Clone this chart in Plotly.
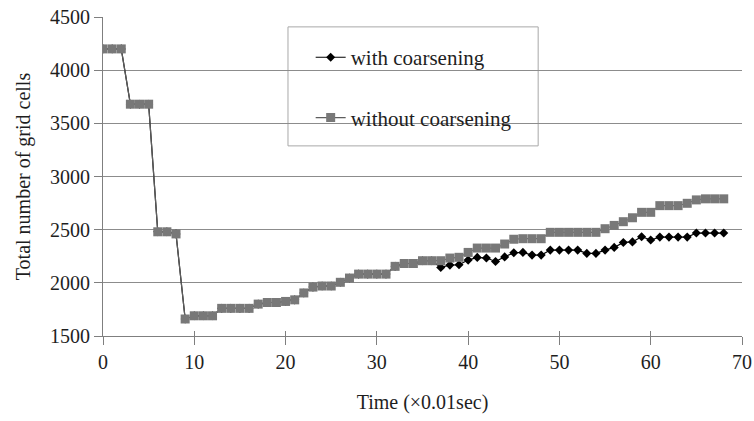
import plotly.graph_objects as go

time = list(range(69))

without_coarsening = [4200, 4200, 4200, 3680, 3680, 3680, 2480, 2480, 2460, 1660,
                      1690, 1690, 1690, 1760, 1760, 1760, 1760, 1800, 1815, 1815,
                      1825, 1840, 1905, 1960, 1970, 1970, 2005, 2045, 2082, 2082,
                      2082, 2082, 2155, 2182, 2182, 2208, 2208, 2208, 2233, 2240,
                      2286, 2327, 2327, 2327, 2365, 2410, 2415, 2415, 2415, 2475,
                      2475, 2475, 2475, 2475, 2475, 2509, 2540, 2575, 2612, 2663,
                      2663, 2726, 2726, 2726, 2748, 2780, 2790, 2790, 2790]

with_coarsening = [4200, 4200, 4200, 3680, 3680, 3680, 2480, 2480, 2460, 1660,
                   1690, 1690, 1690, 1760, 1760, 1760, 1760, 1800, 1815, 1815,
                   1825, 1840, 1905, 1960, 1970, 1970, 2005, 2045, 2082, 2082,
                   2082, 2082, 2155, 2182, 2182, 2208, 2208, 2145, 2167, 2170,
                   2214, 2239, 2233, 2201, 2244, 2283, 2286, 2261, 2261, 2308,
                   2308, 2308, 2308, 2277, 2277, 2308, 2333, 2380, 2385, 2434,
                   2403, 2430, 2430, 2430, 2430, 2468, 2468, 2468, 2468]

x_ticks = [0, 10, 20, 30, 40, 50, 60, 70]
y_ticks = [1500, 2000, 2500, 3000, 3500, 4000, 4500]

FONT = "Liberation Serif, Times New Roman, serif"
TEXT = "#1e1e1e"
AXIS_GRAY = "#7f7f7f"

fig = go.Figure()
fig.add_trace(go.Scatter(
    x=time, y=with_coarsening, mode="lines+markers", name="with coarsening",
    legendgroup="a",
    line=dict(color="black", width=1.2),
    marker=dict(symbol="diamond", size=7, color="black"),
))
fig.add_trace(go.Scatter(
    x=time, y=without_coarsening, mode="lines+markers", name="without coarsening",
    legendgroup="b",
    line=dict(color="#5e5e5e", width=1.2),
    marker=dict(symbol="square", size=9, color="#787878"),
))

# invisible trace on a twin x-axis to draw the inward half of the cross ticks
fig.add_trace(go.Scatter(x=[0], y=[1500], xaxis="x2", mode="markers",
                         marker=dict(opacity=0), showlegend=False, hoverinfo="skip"))

fig.update_layout(
    width=754, height=421,
    margin=dict(l=103, r=12, t=17, b=85),
    paper_bgcolor="white", plot_bgcolor="white",
    font=dict(family=FONT, size=20, color=TEXT),
    xaxis=dict(
        range=[0, 70], tickvals=x_ticks, ticktext=[str(v) for v in x_ticks],
        showgrid=False, zeroline=False, automargin=False,
        showline=True, linecolor=AXIS_GRAY, linewidth=1,
        ticks="outside", ticklen=8, tickcolor=AXIS_GRAY,
        title=dict(text="Time (×0.01sec)", font=dict(family=FONT, size=20, color=TEXT), standoff=22),
        tickfont=dict(family=FONT, size=20, color=TEXT),
    ),
    xaxis2=dict(
        range=[0, 70], tickvals=x_ticks, overlaying="x", side="bottom",
        showticklabels=False, showgrid=False, zeroline=False, automargin=False,
        ticks="inside", ticklen=5, tickcolor=AXIS_GRAY, showline=False,
    ),
    yaxis=dict(
        range=[1500, 4500], tickvals=y_ticks, ticktext=[str(v) for v in y_ticks],
        showgrid=True, gridcolor="#8c8c8c", gridwidth=1, zeroline=False, automargin=False,
        showline=True, linecolor=AXIS_GRAY, linewidth=1,
        ticks="outside", ticklen=8, tickcolor=AXIS_GRAY,
        title=dict(text="Total number of grid cells", font=dict(family=FONT, size=20, color=TEXT), standoff=14),
        tickfont=dict(family=FONT, size=20, color=TEXT),
    ),
    legend=dict(
        x=0.325, y=0.937, xanchor="left", yanchor="top",
        bgcolor="rgba(0,0,0,0)", borderwidth=0,
        tracegroupgap=30, traceorder="grouped",
        font=dict(family=FONT, size=21, color=TEXT),
    ),
    shapes=[dict(
        type="rect", xref="paper", yref="paper",
        x0=0.2895, x1=0.681, y0=0.596, y1=0.969,
        line=dict(color="#a8a8a8", width=1), fillcolor="white", layer="below",
    )],
)

fig.write_html("out.html")
